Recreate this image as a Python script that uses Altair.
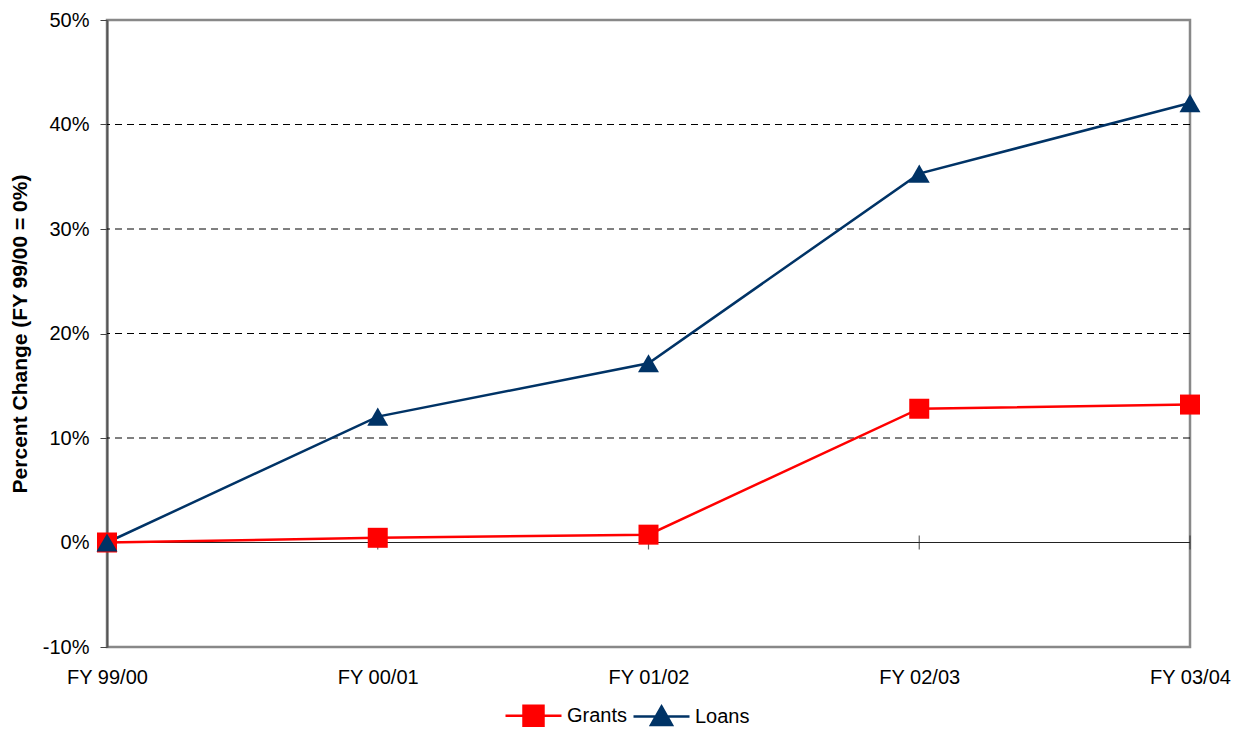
import altair as alt
import pandas as pd

years = ["FY 99/00", "FY 00/01", "FY 01/02", "FY 02/03", "FY 03/04"]
grants = [0.0, 0.45, 0.75, 12.8, 13.2]
loans = [0.0, 12.05, 17.15, 35.3, 42.05]
grid_values = [10, 20, 30, 40]
series_names = ["Grants", "Loans"]
series_colors = ["#FF0000", "#003366"]

rows = []
for y, g, l in zip(years, grants, loans):
    rows.append({"year": y, "series": "Grants", "value": g})
    rows.append({"year": y, "series": "Loans", "value": l})
df = pd.DataFrame(rows)
grid_df = pd.DataFrame({"value": grid_values})
cat_df = pd.DataFrame({"year": years, "value": [0] * len(years)})

FONT = "Liberation Sans"

xscale = alt.Scale(type="point", padding=0, domain=years)
yscale = alt.Scale(domain=[-10, 50], nice=False, zero=False)

x_axis = alt.Axis(title=None, domain=False, ticks=False, labelPadding=20,
                  labelAngle=0, labelFontSize=20, labelFont=FONT, labelColor="#000")
y_axis = alt.Axis(title="Percent Change (FY 99/00 = 0%)", values=[-10, 0, 10, 20, 30, 40, 50],
                  labelExpr="datum.value + '%'", grid=False,
                  domainColor="#555555", domainWidth=2,
                  tickColor="#444444", tickSize=7, labelPadding=11,
                  labelFontSize=20, labelFont=FONT, labelColor="#000",
                  titleFont=FONT, titleFontSize=21, titleFontWeight="bold",
                  titleColor="#000", titleX=-87, titleBaseline="middle")

def X():
    return alt.X("year:N", scale=xscale, sort=years, axis=x_axis)

def Y():
    return alt.Y("value:Q", scale=yscale, axis=y_axis)

shape_expr = ("datum.value === 'Grants' ? 'M-1,0H1M-0.357,-0.357H0.357V0.357H-0.357Z' "
              ": 'M-1,0H1M0,-0.36L0.375,0.3H-0.375Z'")
col_expr = "datum.value === 'Grants' ? '#FF0000' : '#003366'"

color = alt.Color("series:N", scale=alt.Scale(domain=series_names, range=series_colors),
                  legend=alt.Legend(
                      title=None, orient="none", direction="horizontal",
                      legendX=397, legendY=666,
                      symbolSize=3136, symbolStrokeWidth=2.5,
                      symbolType=alt.ExprRef(expr=shape_expr),
                      symbolFillColor=alt.ExprRef(expr=col_expr),
                      symbolOpacity=1,
                      labelFontSize=20, labelFont=FONT, labelColor="#000",
                      labelOffset=4, columnPadding=0))

grid = alt.Chart(grid_df).mark_rule(color="#000000", strokeWidth=1, strokeDash=[7, 5]).encode(y=Y())

zero_line = alt.Chart(cat_df).mark_rule(color="#222222", strokeWidth=1.2).encode(y=Y())

cat_ticks = alt.Chart(cat_df).mark_tick(orient="vertical", size=14, thickness=1.2, color="#222222").encode(
    x=X(), y=Y())

lines = alt.Chart(df).mark_line(strokeWidth=2.5).encode(x=X(), y=Y(), color=color,
                                                         order=alt.Order("series:N"))

grant_pts = alt.Chart(df).transform_filter(alt.datum.series == "Grants").mark_point(
    shape="square", size=400, filled=True, opacity=1, color="#FF0000").encode(x=X(), y=Y())

loan_pts = alt.Chart(df).transform_filter(alt.datum.series == "Loans").mark_point(
    shape="triangle-up", size=440, filled=True, opacity=1, color="#003366").encode(x=X(), y=Y())

chart = alt.layer(grid, zero_line, cat_ticks, lines, grant_pts, loan_pts).properties(
    width=1083, height=627,
    background="white",
    autosize=alt.AutoSizeParams(type="none"),
    padding={"left": 99, "top": 12, "right": 42, "bottom": 81},
).configure_view(stroke="#888888", strokeWidth=2.5)

chart.save("out.html", embed_options={"renderer": "svg", "actions": False})
